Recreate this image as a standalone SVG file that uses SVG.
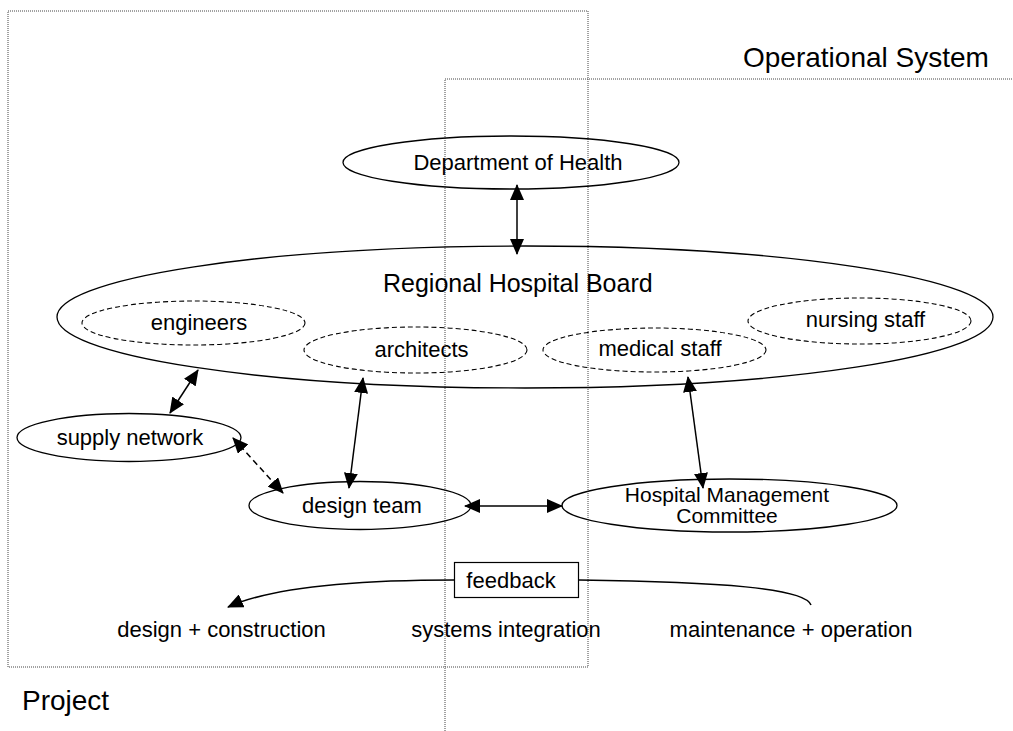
<svg xmlns="http://www.w3.org/2000/svg" width="1013" height="731" viewBox="0 0 1013 731">
<style>
text{font-family:"Liberation Sans",Arial,sans-serif;fill:#000;font-size:22px}
.c{text-anchor:middle}
.big{font-size:28px}
.node{fill:none;stroke:#000;stroke-width:1.3}
.sub{fill:none;stroke:#000;stroke-width:1.1;stroke-dasharray:5,3}
.frame{fill:none;stroke:#444;stroke-width:1;stroke-dasharray:1,1}
.arr{fill:none;stroke:#000;stroke-width:1.5;marker-end:url(#ah)}
.dbl{marker-start:url(#ah)}
.dash{stroke-dasharray:6,4}
</style>
<defs>
<marker id="ah" markerUnits="userSpaceOnUse" markerWidth="16" markerHeight="14" viewBox="0 0 16 14" refX="15" refY="7" orient="auto-start-reverse">
<path d="M0,0 L16,7 L0,14 Z" fill="#000"/>
</marker>
</defs>
<g id="frames">
<rect class="frame" x="8" y="11" width="580" height="656"/>
<path class="frame" d="M445,731 V79 H1013"/>
<text class="big" x="743" y="67">Operational System</text>
<text class="big" x="22" y="710">Project</text>
</g>
<g id="doh">
<ellipse class="node" cx="511" cy="162.5" rx="168" ry="26.5"/>
<text class="c" x="518" y="170">Department of Health</text>
</g>
<g id="rhb">
<ellipse class="node" cx="525" cy="317" rx="468" ry="71"/>
<text x="383" y="292" style="font-size:25px">Regional Hospital Board</text>
</g>
<g id="engineers">
<ellipse class="sub" cx="193.5" cy="323" rx="111.5" ry="22"/>
<text class="c" x="199" y="330">engineers</text>
</g>
<g id="architects">
<ellipse class="sub" cx="415.5" cy="350" rx="111.5" ry="23"/>
<text class="c" x="421.5" y="357">architects</text>
</g>
<g id="medical">
<ellipse class="sub" cx="654.5" cy="350" rx="111.5" ry="22"/>
<text class="c" x="660" y="356">medical staff</text>
</g>
<g id="nursing">
<ellipse class="sub" cx="859.5" cy="321" rx="111.5" ry="23"/>
<text class="c" x="865.5" y="327">nursing staff</text>
</g>
<g id="supply">
<ellipse class="node" cx="129" cy="437.5" rx="112" ry="24"/>
<text class="c" x="130" y="445">supply network</text>
</g>
<g id="design">
<ellipse class="node" cx="360" cy="505.5" rx="111" ry="24"/>
<text class="c" x="362" y="513">design team</text>
</g>
<g id="hmc">
<ellipse class="node" cx="729.5" cy="505.5" rx="167.5" ry="26.5"/>
<text class="c" x="727" y="502" style="font-size:21px">Hospital Management</text>
<text class="c" x="727" y="523" style="font-size:21px">Committee</text>
</g>
<g id="feedback">
<rect x="454.5" y="562.5" width="124" height="35" fill="#fff" stroke="#000" stroke-width="1.2"/>
<text class="c" x="511" y="588">feedback</text>
</g>
<g id="labels">
<text class="c" x="221.5" y="637">design + construction</text>
<text class="c" x="506" y="637">systems integration</text>
<text class="c" x="791" y="637">maintenance + operation</text>
</g>
<g id="connectors">
<path class="arr dbl" d="M517,185 V254"/>
<path class="arr dbl" d="M198,370 L170,413"/>
<path class="arr dbl" d="M363,378 L349,488"/>
<path class="arr dbl" d="M688,377 L703,488"/>
<path class="arr dbl dash" d="M233,438 L283,493"/>
<path class="arr dbl" d="M465,506 H562"/>
<path class="arr" d="M454,580 C350,580 270,588 228,607"/>
<path fill="none" stroke="#000" stroke-width="1.5" d="M579,580 C720,582 805,588 811,605"/>
</g>
</svg>
